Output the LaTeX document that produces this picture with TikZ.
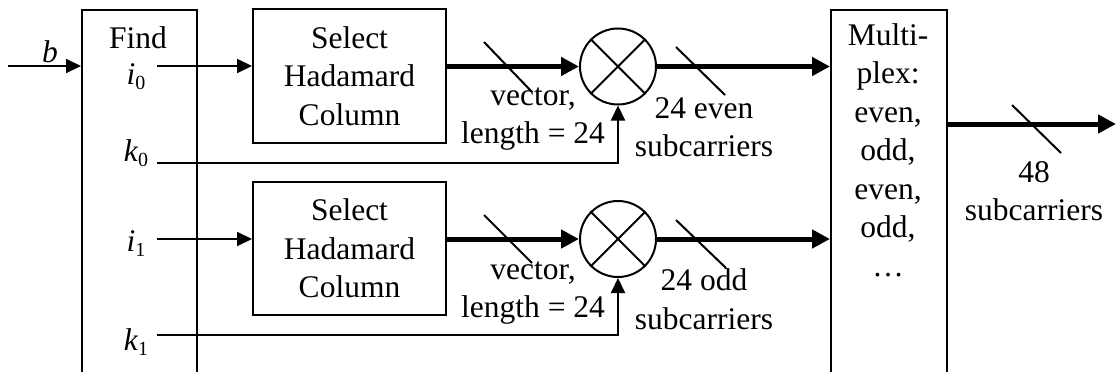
\documentclass[tikz,border=0pt]{standalone}
\usepackage{fontspec}
\setmainfont{Liberation Serif}
\usetikzlibrary{arrows.meta,positioning}

\newcommand{\idx}[2]{\textit{#1}\raisebox{-0.35ex}{\fontsize{20}{20}\selectfont #2}}

\begin{document}
\begin{tikzpicture}[x=1pt,y=-1pt,line width=2pt,
    >={Triangle[length=15pt,width=14pt]},
    font=\fontsize{31.5}{38.5}\selectfont,
    block node/.style={rectangle,draw,line width=2pt,inner sep=0pt,align=center},
    mul node/.style={circle,draw,line width=2pt,minimum size=76pt,inner sep=0pt},
    label node/.style={inner sep=0pt,align=center},
    bus/.style={line width=5pt,-{Triangle[length=18pt,width=18pt]}}]

    \clip (0,0) rectangle (1116,372);

    \node[block node, minimum width=115pt, minimum height=420pt, anchor=north west] (FindIndex) at (81,9) {};
    \node[label node] (FindText) at (138,38) {Find};

    \node[block node, minimum width=193pt, minimum height=134pt] (SelectEven) at (349.5,76) {Select\\Hadamard\\Column};
    \node[block node, minimum width=193pt, minimum height=133pt] (SelectOdd) at (349.5,248.5) {Select\\Hadamard\\Column};

    \node[mul node] (MulEven) at (618,66.5) {};
    \node[mul node] (MulOdd) at (618,239) {};

    \node[block node, minimum width=116pt, minimum height=420pt, anchor=north west] (MuxBox) at (830,9) {};
    \node[label node] (MuxText) at (888,150) {Multi-\\plex:\\even,\\odd,\\even,\\odd,\\\dots};

    % labels
    \node[label node] (BLabel) at (50,52) {\textit{b}};
    \node[label node] (IEven) at (136,77) {\idx{i}{0}};
    \node[label node] (KEven) at (136,153) {\idx{k}{0}};
    \node[label node] (IOdd) at (136,244) {\idx{i}{1}};
    \node[label node] (KOdd) at (136,342) {\idx{k}{1}};

    \node[label node] (VecEven) at (533,119) {vector,\\length = 24};
    \node[label node] (VecOdd) at (533,293) {vector,\\length = 24};
    \node[label node] (SubEven) at (704,127) {24 even\\subcarriers};
    \node[label node] (SubOdd) at (704,299) {24 odd\\subcarriers};
    \node[label node] (SubOut) at (1034,191) {48\\subcarriers};

    \coordinate (BIn) at (8,66);
    \coordinate (IEvenOut) at (157,66);
    \coordinate (KEvenOut) at (157,163);
    \coordinate (IOddOut) at (157,239);
    \coordinate (KOddOut) at (157,335);
    \coordinate (Out) at (1116,124);

    % crosses
    \draw (MulEven.45) -- (MulEven.225) (MulEven.135) -- (MulEven.-45);
    \draw (MulOdd.45) -- (MulOdd.225) (MulOdd.135) -- (MulOdd.-45);

    \draw [->] (BIn) -- (FindIndex.west |- BIn);
    \draw [->] (IEvenOut) -- (SelectEven.west |- IEvenOut);
    \draw [->] (IOddOut) -- (SelectOdd.west |- IOddOut);
    \draw [->] (KEvenOut) -| (MulEven.south);
    \draw [->] (KOddOut) -| (MulOdd.south);

    \draw [bus] (SelectEven.east |- MulEven) -- (MulEven.west);
    \draw [bus] (SelectOdd.east |- MulOdd) -- (MulOdd.west);
    \draw [bus] (MulEven.east) -- (MuxBox.west |- MulEven);
    \draw [bus] (MulOdd.east) -- (MuxBox.west |- MulOdd);
    \draw [bus] (MuxBox.east |- Out) -- (Out);

    % bus widths
    \draw (484,42) -- (532,92);
    \draw (484,215) -- (532,263);
    \draw (676,47) -- (725,95);
    \draw (676,220) -- (726,268);
    \draw (1012,105) -- (1061,153);
\end{tikzpicture}
\end{document}
